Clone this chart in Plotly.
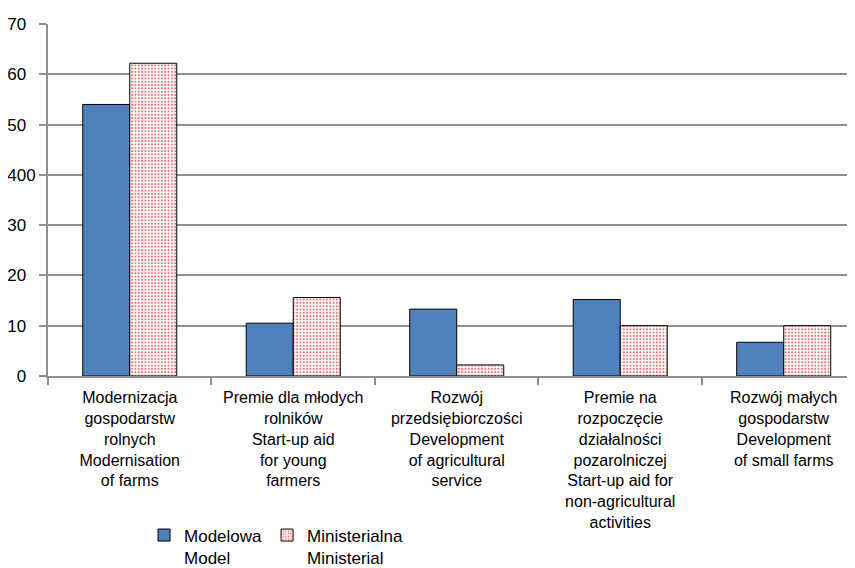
import plotly.graph_objects as go

categories = [
    "Modernizacja<br>gospodarstw<br>rolnych<br>Modernisation<br>of farms",
    "Premie dla młodych<br>rolników<br>Start-up aid<br>for young<br>farmers",
    "Rozwój<br>przedsiębiorczości<br>Development<br>of agricultural<br>service",
    "Premie na<br>rozpoczęcie<br>działalności<br>pozarolniczej<br>Start-up aid for<br>non-agricultural<br>activities",
    "Rozwój małych<br>gospodarstw<br>Development<br>of small farms",
]
model = [54.0, 10.5, 13.3, 15.2, 6.7]
ministerial = [62.2, 15.6, 2.2, 10.0, 10.0]
tick_vals = [0, 10, 20, 30, 40, 50, 60, 70]
tick_text = ["0", "10", "20", "30", "400", "50", "60", "70"]

FONT = "Arial, Liberation Sans, sans-serif"
GRID = "#8f8f8f"

# the odd "400" label in the source sits closer to the axis than the others
shown_ticks = [t if len(t) > 2 else t + "\u2007" for t in tick_text]

fig = go.Figure()
fig.add_trace(go.Bar(
    x=categories, y=model, name="Modelowa<br>Model",
    marker=dict(color="#4f81bd", line=dict(color="#000000", width=1)),
))
fig.add_trace(go.Bar(
    x=categories, y=ministerial, name="Ministerialna<br>Ministerial",
    marker=dict(color="#ffffff", line=dict(color="#000000", width=1),
                pattern=dict(shape=".", fgcolor="#e87070", bgcolor="#ffffff",
                             size=3.3, solidity=0.3, fillmode="replace")),
))

fig.update_layout(
    width=847, height=560,
    margin=dict(l=40, r=0, t=16, b=192, autoexpand=False),
    paper_bgcolor="white", plot_bgcolor="white",
    font=dict(family=FONT, size=16, color="#000000"),
    barmode="group", bargap=0.425, bargroupgap=0,
    showlegend=True,
    legend=dict(orientation="h", x=0.119, xanchor="left", y=-0.402, yanchor="top",
                valign="top", font=dict(size=17, family=FONT),
                bgcolor="rgba(0,0,0,0)"),
)
fig.update_xaxes(
    type="category", range=[-0.5, 4.436], tickangle=0, automargin=False,
    showline=True, linecolor=GRID, linewidth=2,
    ticks="outside", tickson="boundaries", ticklen=7, tickcolor=GRID, tickwidth=2,
    tickfont=dict(size=16, family=FONT), showgrid=False, ticklabelstandoff=6,
)
fig.update_yaxes(
    range=[0, 70], tickvals=tick_vals, ticktext=shown_ticks, automargin=False,
    showline=True, linecolor=GRID, linewidth=2,
    ticks="outside", ticklen=7, tickcolor=GRID, tickwidth=2,
    showgrid=True, gridcolor=GRID, gridwidth=2, zeroline=False,
    tickfont=dict(size=17, family=FONT), ticklabelstandoff=0,
)

fig.write_html("out.html")
